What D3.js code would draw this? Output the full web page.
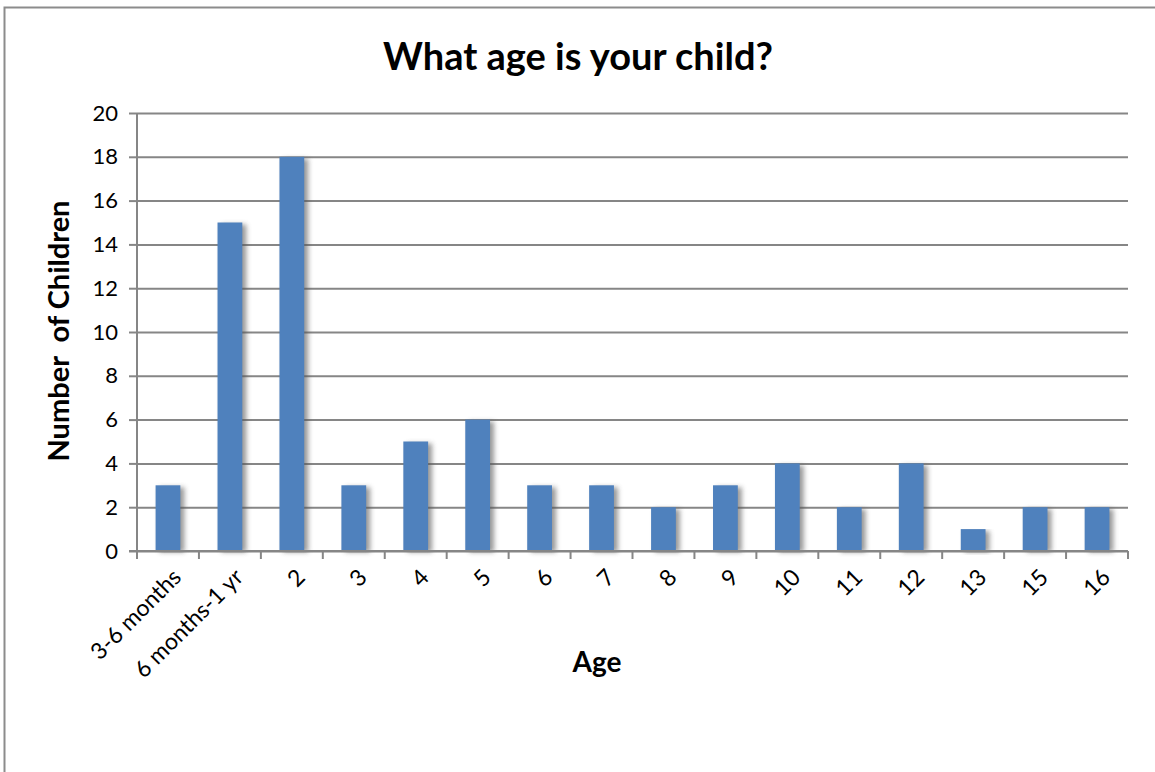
<!DOCTYPE html>
<html lang='en'>
	<head>
		<title>What age is your child?</title>
		<script type='text/javascript' src='https://cdn.jsdelivr.net/npm/d3@7'></script>
		<style>
			body { margin: 0; background: #fff; }
			text { font-family: Lato, 'Open Sans', sans-serif; fill: #000; }
		</style>
	</head>
	<body>
		<script type='text/javascript'>
		var ages = ['3-6 months', '6 months-1 yr', '2', '3', '4', '5', '6', '7', '8', '9', '10', '11', '12', '13', '15', '16'];
		var counts = [3, 15, 18, 3, 5, 6, 3, 3, 2, 3, 4, 2, 4, 1, 2, 2];
		var y_ticks = [0, 2, 4, 6, 8, 10, 12, 14, 16, 18, 20];

		{
			var width = 1155, height = 772;
			var plot_left = 137, plot_right = 1128, plot_top = 113, plot_bottom = 551;
			var svg_elem = d3.select('body').append('svg').attr('width', width).attr('height', height)

			var defs = svg_elem.append('defs')
			var blur = defs.append('filter').attr('id', 'shadow').attr('x', '-50%').attr('y', '-10%').attr('width', '200%').attr('height', '120%')
			blur.append('feGaussianBlur').attr('stdDeviation', 2.5)

			// chart frame
			svg_elem.append('rect').attr('x', 4.5).attr('y', 7.5).attr('width', 1200).attr('height', 800)
				.attr('fill', 'none').attr('stroke', '#8c8c8c').attr('stroke-width', 2)

			var x_scale = d3.scaleBand().domain(ages).range([plot_left, plot_right]).paddingInner(0.6).paddingOuter(0.3)
			var y_scale = d3.scaleLinear().domain([0, 20]).range([plot_bottom, plot_top])

			// gridlines + left axis
			var y_axis = svg_elem.append('g')
				.attr('transform', 'translate(' + plot_left + ',0)')
				.call(d3.axisLeft(y_scale).tickValues(y_ticks).tickSize(8).tickPadding(11))
			y_axis.selectAll('.tick line').clone()
				.attr('x1', 0).attr('x2', plot_right - plot_left)
			y_axis.selectAll('line').attr('stroke', '#868686').attr('stroke-width', 2)
			y_axis.select('.domain').attr('stroke', '#868686').attr('stroke-width', 2)
				.attr('d', 'M0,' + plot_top + 'V' + plot_bottom)
			y_axis.selectAll('text').style('font-size', '22px').style('font-family', 'Lato, sans-serif')

			// bar shadows then bars
			svg_elem.append('g').selectAll('rect').data(counts).enter().append('rect')
				.attr('x', (d, i) => x_scale(ages[i]) + 4)
				.attr('y', d => y_scale(d) + 2)
				.attr('width', x_scale.bandwidth())
				.attr('height', d => plot_bottom - y_scale(d) - 1)
				.attr('fill', '#555')
				.attr('opacity', 0.6)
				.attr('filter', 'url(#shadow)')
			svg_elem.append('g').selectAll('rect').data(counts).enter().append('rect')
				.attr('x', (d, i) => x_scale(ages[i]))
				.attr('y', d => y_scale(d))
				.attr('width', x_scale.bandwidth())
				.attr('height', d => plot_bottom - y_scale(d))
				.attr('fill', '#4f81bd')

			// bottom axis with ticks at category boundaries
			var step = (plot_right - plot_left) / ages.length;
			var x_axis = svg_elem.append('g').attr('transform', 'translate(0,' + plot_bottom + ')')
			x_axis.append('line').attr('x1', plot_left - 8).attr('x2', plot_right).attr('stroke', '#868686').attr('stroke-width', 2)
			x_axis.selectAll('line.tk').data(d3.range(ages.length + 1)).enter().append('line')
				.attr('class', 'tk')
				.attr('x1', i => plot_left + i * step).attr('x2', i => plot_left + i * step)
				.attr('y1', 0).attr('y2', 8)
				.attr('stroke', '#868686').attr('stroke-width', 2)
			x_axis.selectAll('text').data(ages).enter().append('text')
				.attr('transform', d => 'translate(' + (x_scale(d) + x_scale.bandwidth() / 2 + 9) + ',22) rotate(-45)')
				.attr('text-anchor', 'end')
				.attr('dy', '0.35em')
				.style('font-size', '23px')
				.text(d => d)

			// titles
			svg_elem.append('text').attr('x', 578).attr('y', 70).attr('text-anchor', 'middle')
				.style('font-size', '38px').style('font-weight', 'bold').text('What age is your child?')
			svg_elem.append('text').attr('x', 597).attr('y', 672).attr('text-anchor', 'middle')
				.style('font-size', '28px').style('font-weight', 'bold').text('Age')
			svg_elem.append('text').attr('transform', 'translate(69,331) rotate(-90)').attr('text-anchor', 'middle')
				.style('font-size', '29px').style('font-weight', 'bold').style('white-space', 'pre').text('Number  of Children')
		}
		</script>
	</body>
</html>
